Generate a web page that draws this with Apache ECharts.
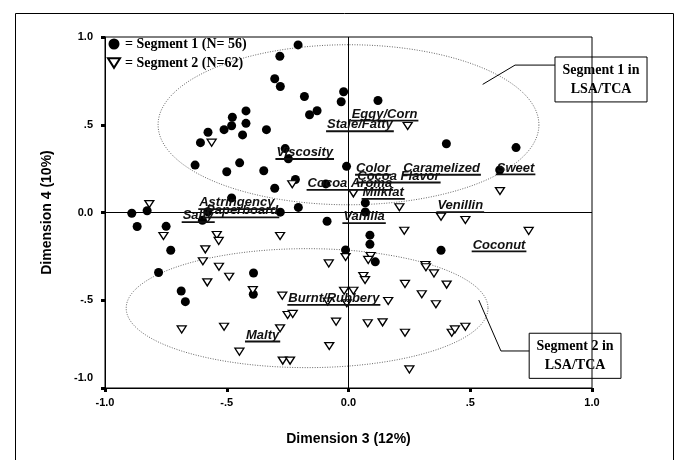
<!DOCTYPE html>
<html>
<head>
<meta charset="utf-8">
<script src="https://cdn.jsdelivr.net/npm/echarts@6/dist/echarts.min.js"></script>
<style>
  html, body { margin: 0; padding: 0; background: #fff; }
  #chart { width: 675px; height: 460px; }
</style>
</head>
<body>
<div id="chart"></div>
<script>
// Consumer segments on dimensions 3 and 4
const seg1Name = '= Segment 1 (N= 56)';
const seg2Name = '= Segment 2 (N=62)';

const segment1 = [
  [-0.207, 0.955], [-0.282, 0.89], [-0.303, 0.762], [-0.28, 0.718], [-0.181, 0.661],
  [-0.02, 0.688], [-0.03, 0.631], [0.121, 0.638], [-0.129, 0.58], [-0.16, 0.557],
  [-0.421, 0.579], [-0.477, 0.543], [-0.421, 0.508], [-0.511, 0.472], [-0.48, 0.494],
  [-0.577, 0.457], [-0.337, 0.472], [-0.435, 0.442], [-0.608, 0.398], [-0.26, 0.364],
  [-0.247, 0.306], [-0.63, 0.27], [-0.447, 0.283], [-0.5, 0.232], [-0.348, 0.238],
  [-0.008, 0.263], [-0.218, 0.188], [-0.303, 0.138], [-0.093, 0.163], [0.402, 0.392],
  [0.688, 0.37], [0.621, 0.242], [-0.48, 0.083], [-0.206, 0.029], [0.069, 0.055],
  [0.069, 0.003], [-0.28, 0.002], [-0.578, 0.004], [-0.6, -0.044], [-0.89, -0.004],
  [-0.827, 0.01], [-0.868, -0.08], [-0.749, -0.079], [-0.73, -0.215], [-0.78, -0.342],
  [-0.687, -0.447], [-0.67, -0.508], [-0.39, -0.345], [-0.391, -0.466], [-0.088, -0.05],
  [0.088, -0.129], [0.088, -0.181], [-0.012, -0.213], [0.11, -0.281], [0.38, -0.215]
];

const segment2 = [
  [0.243, 0.493], [-0.562, 0.398], [0.622, 0.122], [-0.231, 0.161], [0.02, 0.109],
  [0.209, 0.03], [-0.818, 0.048], [0.38, -0.024], [0.48, -0.043], [0.229, -0.104],
  [0.74, -0.105], [-0.281, -0.134], [-0.76, -0.134], [-0.541, -0.128], [-0.533, -0.162],
  [-0.588, -0.21], [-0.598, -0.278], [-0.532, -0.309], [-0.58, -0.398], [-0.49, -0.366],
  [-0.393, -0.442], [-0.272, -0.474], [-0.081, -0.29], [-0.012, -0.254], [0.091, -0.248],
  [0.081, -0.27], [0.061, -0.362], [0.068, -0.385], [-0.018, -0.446], [0.02, -0.446],
  [0.316, -0.299], [0.318, -0.312], [0.351, -0.347], [0.232, -0.407], [0.403, -0.411],
  [0.301, -0.466], [0.359, -0.523], [0.163, -0.504], [-0.085, -0.507], [-0.007, -0.517],
  [-0.25, -0.584], [-0.229, -0.578], [-0.281, -0.66], [-0.511, -0.651], [-0.685, -0.666],
  [-0.051, -0.622], [0.079, -0.631], [0.14, -0.626], [0.232, -0.685], [0.424, -0.685],
  [0.437, -0.666], [0.48, -0.651], [-0.079, -0.761], [-0.448, -0.793], [-0.27, -0.844],
  [-0.24, -0.844], [0.25, -0.894]
];

// Sensory attributes (label anchor: left edge, text middle)
const attrNames = ['Eggy/Corn', 'Stale/Fatty', 'Viscosity', 'Color', 'Caramelized', 'Sweet',
  'Cocoa Flavor', 'Cocoa Aroma', 'Milkfat', 'Astringency', 'Paperboard', 'Salty',
  'Vanilla', 'Venillin', 'Coconut', 'Burnt/Rubbery', 'Malty'];
const attrX = [0.013, -0.088, -0.296, 0.031, 0.225, 0.609, 0.036, -0.168, 0.058, -0.613,
  -0.585, -0.681, -0.021, 0.365, 0.51, -0.247, -0.421];
const attrY = [0.56, 0.50, 0.342, 0.252, 0.252, 0.254, 0.208, 0.166, 0.115, 0.056,
  0.009, -0.018, -0.024, 0.039, -0.185, -0.489, -0.698];

// Segment regions found in LSA/TCA: centre and radii
const ellipseCentre = [[0.0, 0.5], [-0.17, -0.545]];
const ellipseRadius = [[0.782, 0.456], [0.743, 0.339]];

// Callout boxes: [left, top, right, bottom, leaderY, elbowX, endX, endY]
const calloutGeom = [
  [0.848, 0.886, 1.226, 0.63, 0.84, 0.684, 0.551, 0.73],
  [0.742, -0.688, 1.119, -0.945, -0.789, 0.626, 0.535, -0.499]
];
const calloutText = [['Segment 1 in', 'LSA/TCA'], ['Segment 2 in', 'LSA/TCA']];

const xTickLabels = ['-1.0', '-.5', '0.0', '.5', '1.0'];
const yTickLabels = ['-1.0', '-.5', '0.0', '.5', '1.0'];

const SANS = '"Liberation Sans", Arial, sans-serif';
const SERIF = '"Liberation Serif", "Times New Roman", serif';
const attrFont = 'italic bold 13px ' + SANS;
const measureCtx = document.createElement('canvas').getContext('2d');
function textWidth(t, font) { measureCtx.font = font; return measureCtx.measureText(t).width; }

const tickIndex = v => Math.round((v + 1) / 0.5);

const chart = echarts.init(document.getElementById('chart'), null, { renderer: 'canvas' });

chart.setOption({
  animation: false,
  backgroundColor: '#fff',
  graphic: [{
    type: 'rect', left: 13, top: 11, shape: { width: 658, height: 470 },
    style: { fill: 'none', stroke: '#000', lineWidth: 1 }, silent: true
  }],
  grid: { left: 105, right: 83, top: 37, bottom: 72, show: true, borderColor: '#000', borderWidth: 1, backgroundColor: 'transparent' },
  legend: {
    orient: 'vertical', left: 107, top: 37, padding: 0, itemGap: 5, itemWidth: 12, itemHeight: 11,
    data: [seg1Name, seg2Name],
    textStyle: { fontFamily: SERIF, fontWeight: 'bold', fontSize: 14, color: '#000' }
  },
  xAxis: {
    type: 'value', min: -1, max: 1, interval: 0.5,
    name: 'Dimension 3 (12%)', nameLocation: 'middle', nameGap: 44,
    nameTextStyle: { fontFamily: SANS, fontWeight: 'bold', fontSize: 14, color: '#000' },
    axisLine: { onZero: false, lineStyle: { color: '#000', width: 1 } },
    axisTick: { show: true, inside: false, length: 4, lineStyle: { color: '#000', width: 3 } },
    splitLine: { show: false },
    axisLabel: {
      margin: 9, color: '#000', fontFamily: SANS, fontWeight: 'bold', fontSize: 11,
      formatter: v => xTickLabels[tickIndex(v)]
    }
  },
  yAxis: {
    type: 'value', min: -1, max: 1, interval: 0.5,
    name: 'Dimension 4 (10%)', nameLocation: 'middle', nameGap: 51,
    nameTextStyle: { fontFamily: SANS, fontWeight: 'bold', fontSize: 14, color: '#000' },
    axisLine: { onZero: false, lineStyle: { color: '#000', width: 1 } },
    axisTick: { show: true, inside: false, length: 4, lineStyle: { color: '#000', width: 3 } },
    splitLine: { show: false },
    axisLabel: {
      margin: 12, color: '#000', fontFamily: SANS, fontWeight: 'bold', fontSize: 11,
      formatter: v => (v === -1 ? '{lo|' + yTickLabels[0] + '}' : yTickLabels[tickIndex(v)]),
      rich: { lo: { fontFamily: SANS, fontWeight: 'bold', fontSize: 11, color: '#000', padding: [0, 0, 20, 0] } }
    }
  },
  series: [
    {
      // dotted regions
      type: 'custom', name: 'regions', z: 1, silent: true,
      data: ellipseCentre.map((c, i) => [c[0], c[1], ellipseRadius[i][0], ellipseRadius[i][1]]),
      renderItem: (params, api) => {
        const c = api.coord([api.value(0), api.value(1)]);
        const s = api.size([api.value(2), api.value(3)]);
        const pts = [];
        for (let k = 0; k <= 180; k++) {
          const a = (k / 180) * Math.PI * 2;
          pts.push([c[0] + s[0] * Math.cos(a), c[1] + s[1] * Math.sin(a)]);
        }
        return { type: 'polyline', shape: { points: pts },
          style: { fill: 'none', stroke: '#666', lineWidth: 1, lineDash: [1, 1.5] } };
      }
    },
    {
      name: seg1Name, type: 'scatter', z: 3, symbol: 'circle', symbolSize: 9,
      itemStyle: { color: '#000', opacity: 1 },
      data: segment1,
      markLine: {
        silent: true, symbol: 'none', animation: false,
        label: { show: false },
        lineStyle: { color: '#000', width: 1, type: 'solid' },
        data: [{ xAxis: 0 }, { yAxis: 0 }]
      }
    },
    {
      name: seg2Name, type: 'scatter', z: 3,
      symbol: 'path://M0,0 L10,0 L5,8 Z', symbolSize: [9, 7],
      itemStyle: { color: '#fff', borderColor: '#000', borderWidth: 1.3, opacity: 1 },
      data: segment2
    },
    {
      // attribute names, bold italic and underlined
      type: 'custom', name: 'attributes', z: 5, silent: true,
      data: attrX.map((x, i) => [x, attrY[i], i]),
      renderItem: (params, api) => {
        const p = api.coord([api.value(0), api.value(1)]);
        const t = attrNames[api.value(2)];
        const w = textWidth(t, attrFont);
        return {
          type: 'group',
          children: [
            { type: 'text', x: p[0], y: p[1],
              style: { text: t, font: attrFont, fill: '#111', align: 'left', verticalAlign: 'middle' } },
            { type: 'line', shape: { x1: p[0] - 1, y1: p[1] + 6.5, x2: p[0] + w + 1, y2: p[1] + 6.5 },
              style: { stroke: '#111', lineWidth: 1.8 } }
          ]
        };
      }
    },
    {
      // callout boxes with leader lines
      type: 'custom', name: 'callouts', z: 4, silent: true,
      data: calloutGeom.map((g, i) => g.concat([i])),
      renderItem: (params, api) => {
        const tl = api.coord([api.value(0), api.value(1)]);
        const br = api.coord([api.value(2), api.value(3)]);
        const a = api.coord([api.value(0), api.value(4)]);
        const b = api.coord([api.value(5), api.value(4)]);
        const e = api.coord([api.value(6), api.value(7)]);
        const lines = calloutText[api.value(8)];
        const cx = (tl[0] + br[0]) / 2, cy = (tl[1] + br[1]) / 2;
        return {
          type: 'group',
          children: [
            { type: 'rect', shape: { x: tl[0], y: tl[1], width: br[0] - tl[0], height: br[1] - tl[1] },
              style: { fill: 'none', stroke: '#000', lineWidth: 1 } },
            { type: 'polyline', shape: { points: [a, b, e] }, style: { fill: 'none', stroke: '#000', lineWidth: 1 } },
            { type: 'text', x: cx, y: cy - 9.5,
              style: { text: lines[0], font: 'bold 14px ' + SERIF, fill: '#000', align: 'center', verticalAlign: 'middle' } },
            { type: 'text', x: cx, y: cy + 9.5,
              style: { text: lines[1], font: 'bold 14px ' + SERIF, fill: '#000', align: 'center', verticalAlign: 'middle' } }
          ]
        };
      }
    }
  ]
});
</script>
</body>
</html>
